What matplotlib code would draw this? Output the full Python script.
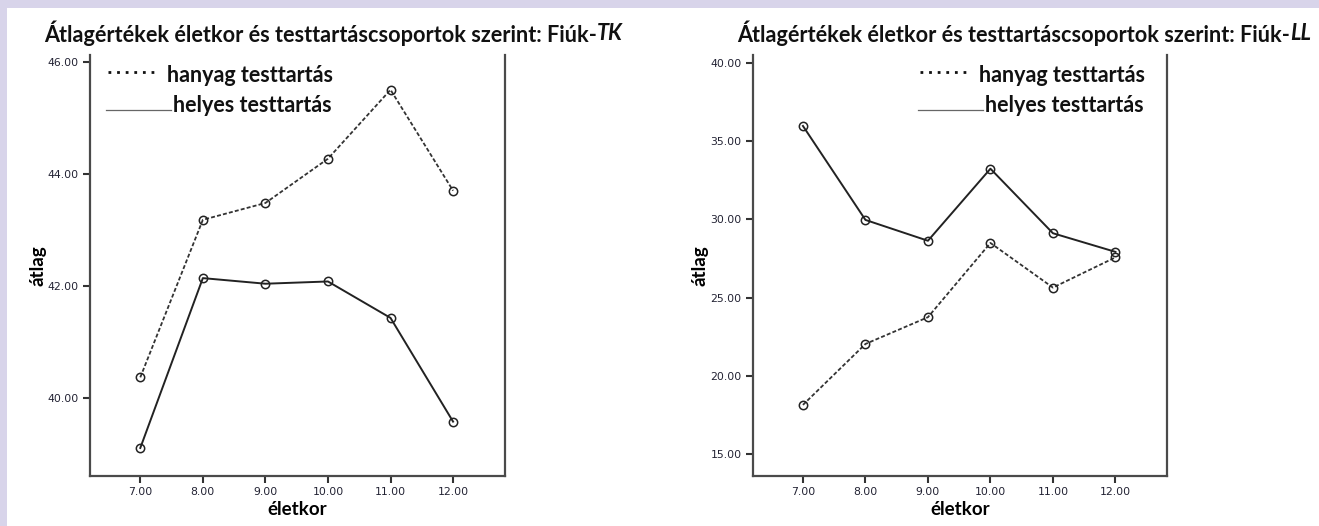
import matplotlib.pyplot as plt
from matplotlib.patches import Rectangle
from matplotlib.lines import Line2D

# mean values by age and posture group (boys)
ages = [7, 8, 9, 10, 11, 12]
age_labels = ['7.00', '8.00', '9.00', '10.00', '11.00', '12.00']

tk_hanyag = [40.37, 43.18, 43.48, 44.27, 45.50, 43.70]
tk_helyes = [39.11, 42.14, 42.04, 42.08, 41.43, 39.58]
tk_ticks = [40, 42, 44, 46]

ll_hanyag = [18.15, 22.04, 23.75, 28.49, 25.64, 27.57]
ll_helyes = [35.96, 29.96, 28.63, 33.23, 29.11, 27.92]
ll_ticks = [15, 20, 25, 30, 35, 40]

TITLE_FONT = 'Lato'
W, H = 1319, 526

fig = plt.figure(figsize=(13.19, 5.26), dpi=100)
fig.patch.set_facecolor('#d8d4ea')
# white slide area
fig.patches.append(Rectangle((7 / W, 0), 1, 1 - 8 / H, transform=fig.transFigure,
                             facecolor='white', edgecolor='none', zorder=-5))
renderer = fig.canvas.get_renderer()


def draw_title(x_px, main, tail):
    y = 1 - 33 / H
    t = fig.text(x_px / W, y, main, fontsize=15.6, fontweight='bold',
                 family=TITLE_FONT, va='center', ha='left', color='#111111')
    x1 = t.get_window_extent(renderer).x1
    fig.text(x1 / W, y, tail, fontsize=15.6, fontweight='bold', fontstyle='italic',
             family=TITLE_FONT, va='center', ha='left', color='#111111')


def draw_legend(lx):
    # hand-made legend: dotted sample and thin underline sample
    fig.add_artist(Line2D([lx / W, (lx + 48) / W], [1 - 72 / H] * 2, transform=fig.transFigure,
                          color='#111111', lw=2.0, linestyle=(0, (1, 2.1))))
    fig.text((lx + 59) / W, 1 - 75 / H, 'hanyag testtartás', fontsize=15.5, fontweight='bold',
             family=TITLE_FONT, va='center', ha='left', color='#111111')
    fig.add_artist(Line2D([(lx - 2) / W, (lx + 63) / W], [1 - 110 / H] * 2,
                          transform=fig.transFigure, color='#666666', lw=0.9))
    fig.text((lx + 65) / W, 1 - 105 / H, 'helyes testtartás', fontsize=15.5, fontweight='bold',
             family=TITLE_FONT, va='center', ha='left', color='#111111')


def draw_panel(rect, hanyag, helyes, ticks, ylim):
    ax = fig.add_axes(rect)
    ax.set_facecolor('none')
    ax.plot(ages, hanyag, color='#333333', lw=1.3, linestyle=(0, (2.2, 1.2)),
            marker='o', ms=6, mfc='none', mec='#222222', mew=1.1)
    ax.plot(ages, helyes, color='#222222', lw=1.4,
            marker='o', ms=6, mfc='none', mec='#222222', mew=1.1)
    ax.set_xlim(6.196, 12.83)
    ax.set_ylim(*ylim)
    ax.set_xticks(ages)
    ax.set_xticklabels(age_labels)
    ax.set_yticks(ticks)
    ax.set_yticklabels(['%.2f' % t for t in ticks])
    for side in ['left', 'bottom', 'right']:
        ax.spines[side].set_color('#4a4a4a')
        ax.spines[side].set_linewidth(1.6)
    ax.spines['top'].set_visible(False)
    ax.tick_params(axis='both', direction='out', length=5, width=1.5, color='#333333',
                   labelsize=7.8, labelcolor='#222233', pad=3)
    ax.set_xlabel('életkor', fontsize=13.5, fontweight='bold', family=TITLE_FONT, labelpad=3)
    ax.set_ylabel('átlag', fontsize=13.5, fontweight='bold', family=TITLE_FONT, labelpad=1)
    return ax


left_rect = [90 / W, 50 / H, 415 / W, 421 / H]
right_rect = [752.7 / W, 50 / H, 414.6 / W, 421 / H]

draw_panel(left_rect, tk_hanyag, tk_helyes, tk_ticks, (38.61, 46.12))
draw_panel(right_rect, ll_hanyag, ll_helyes, ll_ticks, (13.61, 40.49))

draw_title(44, 'Átlagértékek életkor és testtartáscsoportok szerint: Fiúk-', 'TK')
draw_title(737, 'Átlagértékek életkor és testtartáscsoportok szerint: Fiúk-', 'LL')
draw_legend(108)
draw_legend(920)

fig.savefig('out.png', dpi=100, facecolor=fig.get_facecolor())
